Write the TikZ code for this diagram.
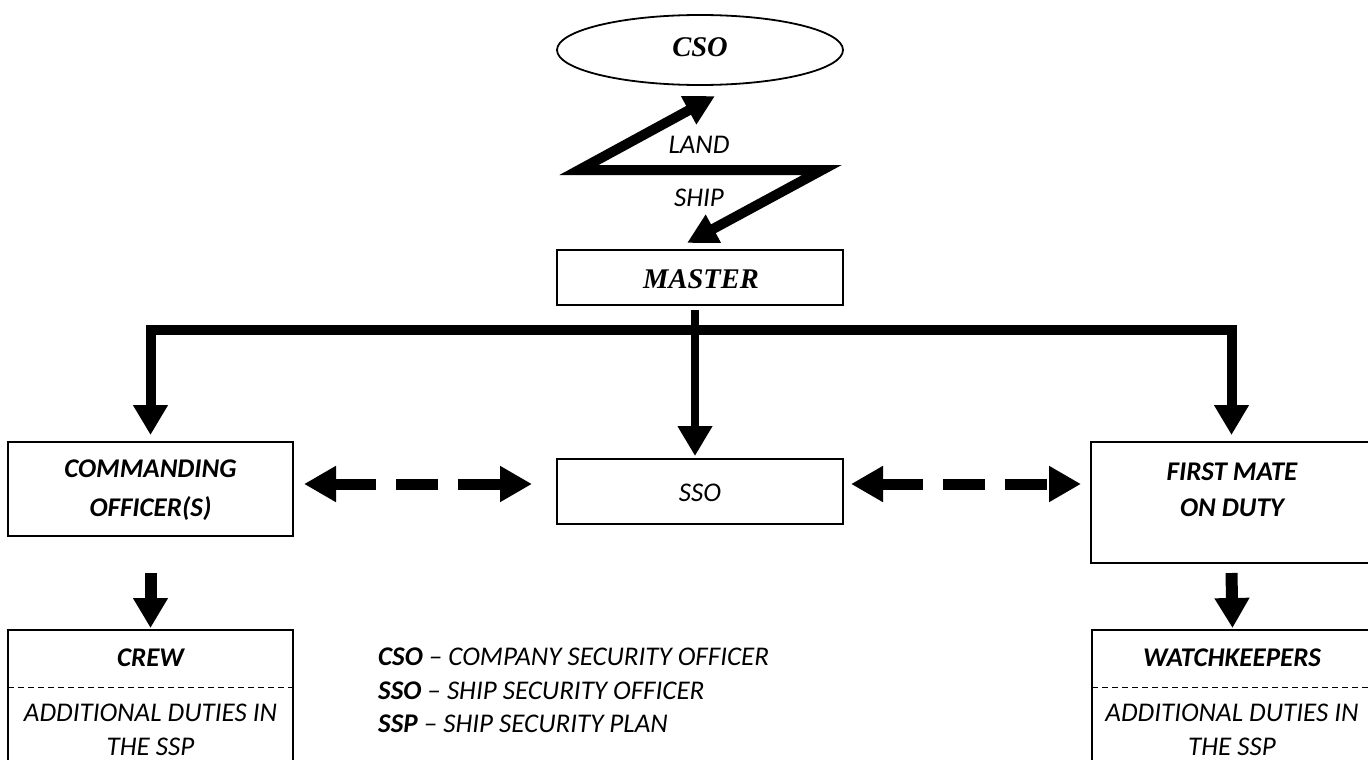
\documentclass[tikz,border=0pt]{standalone}
\usepackage{fontspec}
\setmainfont{Carlito}
\newfontfamily\timesf{Liberation Serif}
\usetikzlibrary{arrows.meta,shapes.geometric}
\begin{document}
\begin{tikzpicture}[x=1pt,y=-1pt,
  box/.style={draw,line width=1.8pt,rectangle,inner sep=0pt,outer sep=0pt,anchor=north west},
  t/.style={inner sep=0pt,anchor=base,font=\fontsize{27}{31}\selectfont\itshape},
  tb/.style={inner sep=0pt,anchor=base,font=\fontsize{27}{31}\selectfont\bfseries\itshape},
  ts/.style={inner sep=0pt,anchor=base,font=\fontsize{28.5}{32}\selectfont\timesf\bfseries\itshape},
  zig/.style={line width=10pt,line join=miter,{Triangle[length=30pt,width=30pt]}-{Triangle[length=30pt,width=30pt]}},
  branch/.style={line width=10pt,line join=miter,{Triangle[length=30pt,width=33pt]}-{Triangle[length=30pt,width=33pt]}},
  down/.style={line width=8pt,-{Triangle[length=30pt,width=33pt]}},
  downthick/.style={line width=12pt,-{Triangle[length=30pt,width=33pt]}},
  dasharrow/.style={line width=11pt,dash pattern=on 42pt off 20pt,{Triangle[length=32pt,width=34pt]}-{Triangle[length=32pt,width=34pt]}},
  sep/.style={line width=1pt,dash pattern=on 6pt off 4pt}
]
\useasboundingbox (0,0) rectangle (1368,760);
\clip (0,0) rectangle (1368,760);

% nodes
\node[draw,ellipse,line width=1.8pt,minimum width=286pt,minimum height=70pt,inner sep=0pt] (cso) at (700,50) {};
\node[ts] (csot) at (700,57) {CSO};
\node[box,minimum width=286pt,minimum height=55pt] (master) at (557,250) {};
\node[ts] (mastert) at (701,288) {MASTER};
\node[box,minimum width=286pt,minimum height=65pt] (sso) at (557,459) {};
\node[t] (ssot) at (700,501) {SSO};
\node[box,minimum width=285pt,minimum height=94pt] (co) at (8,442) {};
\node[tb] (cot1) at (150.5,477) {COMMANDING};
\node[tb] (cot2) at (150.5,516) {OFFICER(S)};
\node[box,minimum width=281pt,minimum height=121pt] (fm) at (1091,442) {};
\node[tb] (fmt1) at (1232,480) {FIRST MATE};
\node[tb] (fmt2) at (1232,516) {ON DUTY};
\node[box,minimum width=285pt,minimum height=142pt] (crew) at (8,630) {};
\node[tb] (crewt) at (150.5,666) {CREW};
\node[t] (crewa) at (150.5,721) {ADDITIONAL DUTIES IN};
\node[t] (crewb) at (150.5,755) {THE SSP};
\node[box,minimum width=281pt,minimum height=142pt] (wk) at (1092,630) {};
\node[tb] (wkt) at (1232,666) {WATCHKEEPERS};
\node[t] (wka) at (1232,721) {ADDITIONAL DUTIES IN};
\node[t] (wkb) at (1232,755) {THE SSP};

\coordinate (sepy) at (0,687);
\draw[sep] (crew.west |- sepy) -- (crew.east |- sepy);
\draw[sep] (wk.west |- sepy) -- (wk.east |- sepy);

% LAND / SHIP zigzag
\coordinate (z1) at (579,170);
\coordinate (z2) at (822,170);
\draw[zig] (715,96) coordinate (zt1) -- (z1) -- (z2) -- (687,243) coordinate (zt2);
\node[t] (land) at (699,153) {LAND};
\node[t] (ship) at (699,206) {SHIP};

% branches from master
\coordinate (bl) at (150.5,330);
\coordinate (br) at (1231.5,330);
\draw[branch] ([yshift=7pt]co.north) -- (bl) -- (br) -- ([yshift=7pt]fm.north);
\draw[down] ([xshift=-5pt,yshift=-5pt]master.south) -- ([xshift=-5pt,yshift=3pt]sso.north);

% dashed two-way arrows
\coordinate (dya) at (0,484);
\coordinate (dl1) at ([xshift=11pt]co.east);
\coordinate (dl2) at ([xshift=-25pt]sso.west);
\coordinate (dr1) at ([xshift=8pt]sso.east);
\coordinate (dr2) at ([xshift=-10pt]fm.west);
\draw[dasharrow] (dl1 |- dya) -- (dl2 |- dya);
\draw[dasharrow] (dr1 |- dya) -- (dr2 |- dya);

% down arrows to crew / watchkeepers
\draw[downthick] ([yshift=-37pt]co.south) -- ([yshift=2pt]crew.north);
\draw[downthick] ([yshift=-10pt]fm.south) -- ([yshift=2pt]wk.north);

% legend
\node[t,anchor=base west] (lg1) at (378,665) {\textbf{CSO} – COMPANY SECURITY OFFICER};
\node[t,anchor=base west] (lg2) at (378,699) {\textbf{SSO} – SHIP SECURITY OFFICER};
\node[t,anchor=base west] (lg3) at (378,732) {\textbf{SSP} – SHIP SECURITY PLAN};
\end{tikzpicture}
\end{document}
